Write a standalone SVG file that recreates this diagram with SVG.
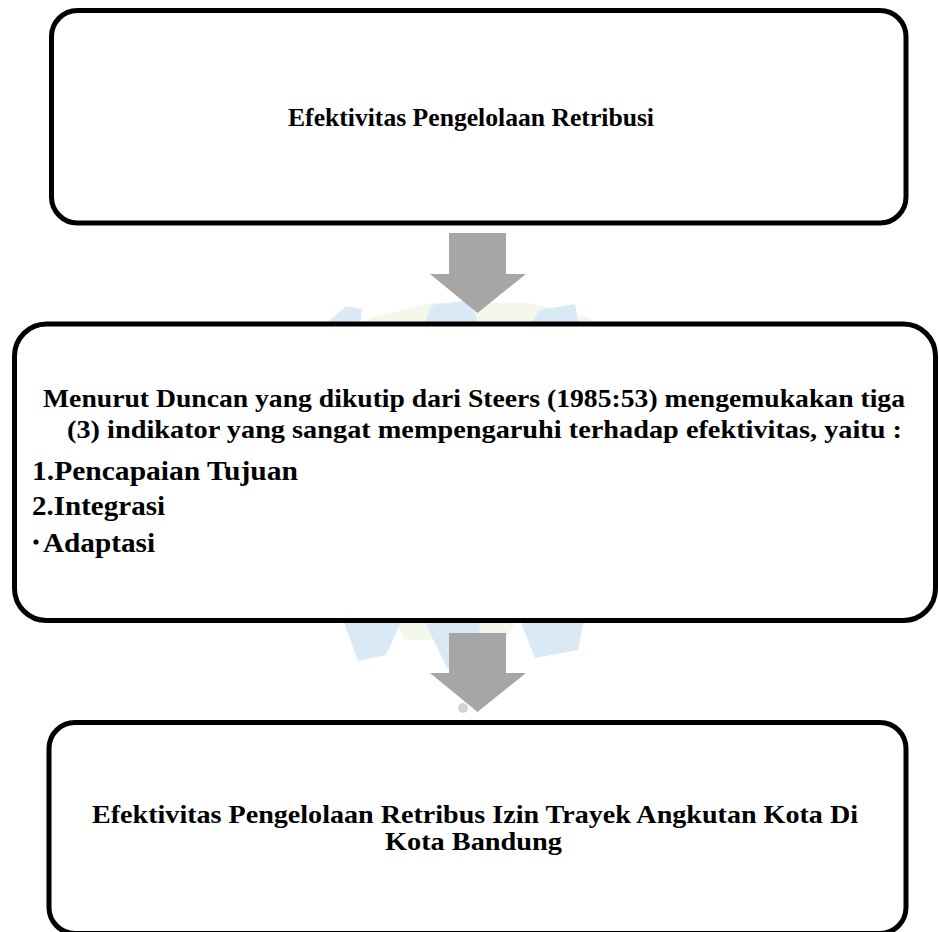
<svg xmlns="http://www.w3.org/2000/svg" width="939" height="932" viewBox="0 0 939 932">
<style>
.box{fill:#ffffff;stroke:#000000;stroke-width:5}
.arrow{fill:#a6a6a6;stroke:none}
.t{font-family:'Times New Roman','Liberation Serif',serif;font-weight:700;fill:#000000}
.wm{fill:#d9eaf6}
.wg{fill:#f4f8ea}
</style>
<rect width="939" height="932" fill="#ffffff"/>
<g id="watermark">
<polygon class="wg" points="370,318 430,303 530,303 590,318 590,326 370,326"/>
<polygon class="wm" points="322,327 346,306 362,309 360,327"/>
<polygon class="wm" points="423,327 432,305 470,300 480,327"/>
<polygon class="wm" points="528,327 540,310 575,304 579,327"/>
<polygon class="wg" points="393,620 517,620 505,640 405,640"/>
<polygon class="wm" points="343,620 402,620 386,655 358,661"/>
<polygon class="wm" points="424,620 480,620 476,682 447,668"/>
<polygon class="wm" points="520,620 584,620 578,650 535,658"/>
<circle cx="463" cy="708" r="5" fill="#d4d4d4"/>
</g>
<g id="connectors">
<path class="arrow" d="M449,233 H506 V274 H526 L477.5,313 L430,274 H449 Z"/>
<path class="arrow" d="M449,633 H506 V673 H526 L477.5,712 L430,673 H449 Z"/>
</g>
<g id="box1">
<rect class="box" x="51.5" y="10.5" width="854.5" height="212.5" rx="26"/>
<text class="t" x="288" y="126" font-size="26" textLength="366" lengthAdjust="spacingAndGlyphs">Efektivitas Pengelolaan Retribusi</text>
</g>
<g id="box2">
<rect class="box" x="14.5" y="324" width="921" height="296.5" rx="32"/>
<text class="t" x="43" y="407" font-size="26" textLength="862" lengthAdjust="spacingAndGlyphs">Menurut Duncan yang dikutip dari Steers (1985:53) mengemukakan tiga</text>
<text class="t" x="67" y="438" font-size="26" textLength="835" lengthAdjust="spacingAndGlyphs">(3) indikator yang sangat mempengaruhi terhadap efektivitas, yaitu :</text>
<text class="t" x="32" y="480" font-size="27" textLength="266" lengthAdjust="spacingAndGlyphs">1.Pencapaian Tujuan</text>
<text class="t" x="32" y="515" font-size="27" textLength="133" lengthAdjust="spacingAndGlyphs">2.Integrasi</text>
<circle cx="36" cy="542" r="2.6" fill="#000000"/>
<text class="t" x="43" y="552" font-size="27" textLength="112" lengthAdjust="spacingAndGlyphs">Adaptasi</text>
</g>
<g id="box3">
<rect class="box" x="49" y="722.5" width="857" height="211" rx="26"/>
<text class="t" x="92" y="823" font-size="25" textLength="766" lengthAdjust="spacingAndGlyphs">Efektivitas Pengelolaan Retribus Izin Trayek Angkutan Kota Di</text>
<text class="t" x="385" y="850" font-size="25" textLength="177" lengthAdjust="spacingAndGlyphs">Kota Bandung</text>
</g>
</svg>
